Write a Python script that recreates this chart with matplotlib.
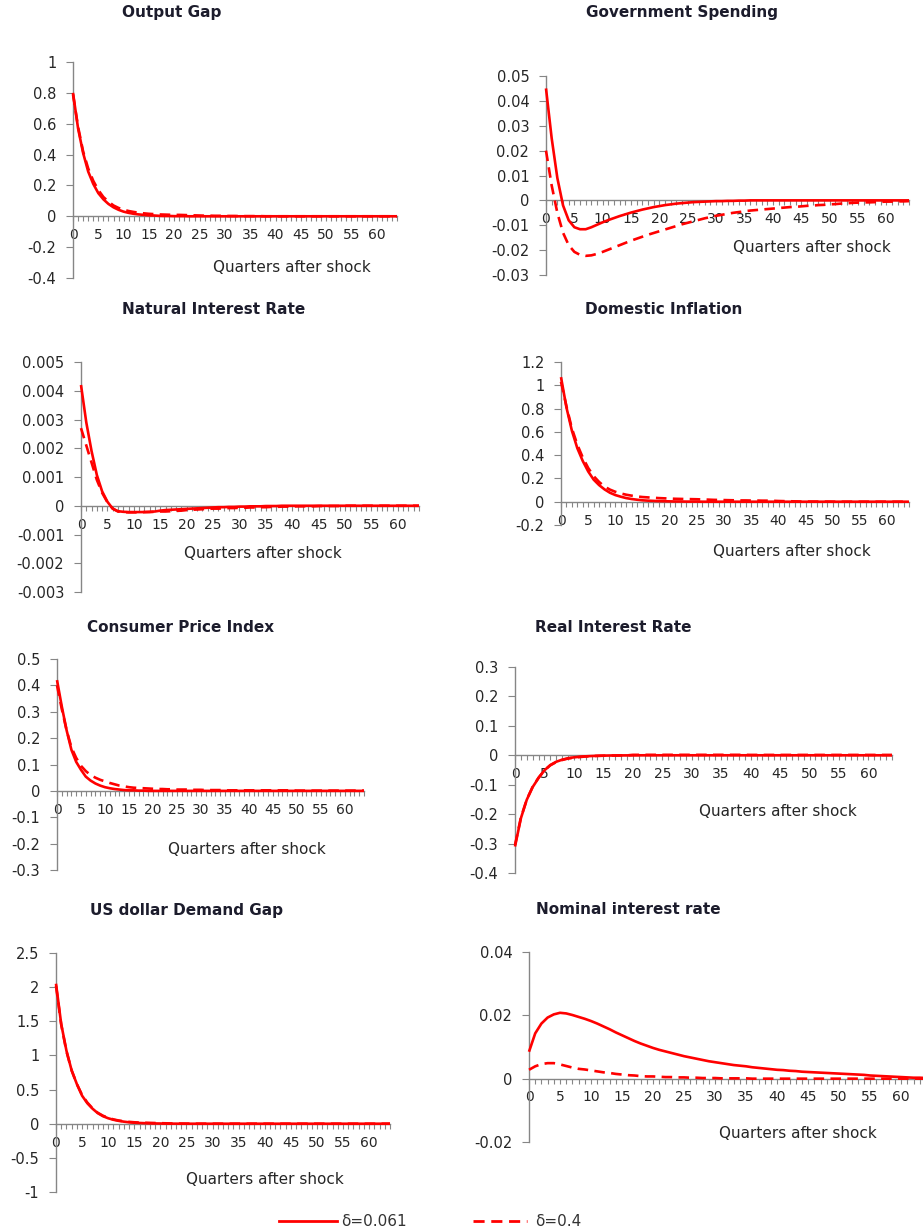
import matplotlib
matplotlib.use("Agg")
import matplotlib.pyplot as plt
from matplotlib.ticker import MultipleLocator, FuncFormatter
from matplotlib.lines import Line2D

plt.rcParams['font.family'] = ['DejaVu Sans']

# ---------------- data ----------------
quarters = list(range(65))
xticks_major = [0, 5, 10, 15, 20, 25, 30, 35, 40, 45, 50, 55, 60]

titles = ["Output Gap", "Government Spending", "Natural Interest Rate",
          "Domestic Inflation", "Consumer Price Index", "Real Interest Rate",
          "US dollar Demand Gap", "Nominal interest rate"]
legend_labels = ["\u03b4=0.061", "\u03b4=0.4"]
xlabel_text = "Quarters after shock"

og_solid = [0.80, 0.57, 0.41, 0.29, 0.21, 0.15, 0.11, 0.08, 0.058, 0.042,
            0.030, 0.022, 0.016, 0.012, 0.009, 0.006, 0.005, 0.003, 0.002, 0.002,
            0.001, 0.001, 0.001, 0, 0, 0, 0, 0, 0, 0,
            0, 0, 0, 0, 0, 0, 0, 0, 0, 0,
            0, 0, 0, 0, 0, 0, 0, 0, 0, 0,
            0, 0, 0, 0, 0, 0, 0, 0, 0, 0,
            0, 0, 0, 0, 0]
og_dash = [0.79, 0.58, 0.42, 0.31, 0.23, 0.17, 0.125, 0.095, 0.070, 0.054,
           0.042, 0.034, 0.028, 0.023, 0.019, 0.016, 0.014, 0.012, 0.011, 0.010,
           0.009, 0.009, 0.008, 0.007, 0.006, 0.005, 0.004, 0.004, 0.003, 0.003,
           0.002, 0.002, 0.002, 0.001, 0.001, 0.001, 0.001, 0.001, 0, 0,
           0, 0, 0, 0, 0, 0, 0, 0, 0, 0,
           0, 0, 0, 0, 0, 0, 0, 0, 0, 0,
           0, 0, 0, 0, 0]

gs_solid = [0.045, 0.025, 0.009, -0.002, -0.008, -0.0108, -0.0116, -0.0116, -0.0108, -0.0098,
            -0.0088, -0.0079, -0.0071, -0.0063, -0.0056, -0.0049, -0.0043, -0.0037, -0.0032, -0.0027,
            -0.0023, -0.0019, -0.0016, -0.0013, -0.0011, -0.0009, -0.0007, -0.0006, -0.0005, -0.0004,
            -0.0003, -0.0003, -0.0002, -0.0002, -0.0001, -0.0001, 0, 0, 0, 0,
            0, 0, 0, 0, 0, 0, 0, 0, 0, 0,
            0, 0, 0, 0, 0, 0, 0, 0, 0, 0,
            0, 0, 0, 0, 0]
gs_dash = [0.020, 0.006, -0.005, -0.013, -0.018, -0.0207, -0.0219, -0.0223, -0.0221, -0.0215,
           -0.0207, -0.0198, -0.0189, -0.0180, -0.0171, -0.0162, -0.0154, -0.0146, -0.0138, -0.0131,
           -0.0124, -0.0117, -0.0110, -0.0103, -0.0096, -0.0090, -0.0084, -0.0078, -0.0072, -0.0067,
           -0.0062, -0.0058, -0.0054, -0.0050, -0.0047, -0.0044, -0.0041, -0.0039, -0.0037, -0.0035,
           -0.0033, -0.0031, -0.0029, -0.0027, -0.0026, -0.0024, -0.0022, -0.0021, -0.0019, -0.0018,
           -0.0016, -0.0015, -0.0013, -0.0012, -0.0010, -0.0009, -0.0008, -0.0008, -0.0007, -0.0006,
           -0.0005, -0.0005, -0.0004, -0.0004, -0.0003]

nir_solid = [0.0042, 0.0029, 0.0019, 0.00107, 0.0005, 0.00014, -0.0001, -0.00019, -0.00021, -0.00022,
             -0.00022, -0.00022, -0.00022, -0.00021, -0.0002, -0.00017, -0.00015, -0.00014, -0.00013, -0.00012,
             -0.00011, -0.0001, -0.00009, -0.00008, -0.00007, -0.00006, -0.00005, -0.00005, -0.00004, -0.00004,
             -0.00003, -0.00003, -0.00002, -0.00002, -0.00002, -0.00001, -0.00001, -0.00001, 0, 0,
             0, 0, 0, 0, 0, 0, 0, 0, 0, 0,
             0, 0, 0, 0, 0, 0, 0, 0, 0, 0,
             0, 0, 0, 0, 0]
nir_dash = [0.0027, 0.0021, 0.0015, 0.0009, 0.00045, 0.00012, -0.0001, -0.0002, -0.00022, -0.00023,
            -0.00023, -0.00023, -0.00022, -0.00022, -0.00021, -0.0002, -0.0002, -0.00019, -0.00018, -0.00017,
            -0.00015, -0.00014, -0.00013, -0.00012, -0.00011, -0.0001, -0.0001, -0.00009, -0.00008, -0.00008,
            -0.00007, -0.00007, -0.00006, -0.00006, -0.00005, -0.00005, -0.00004, -0.00004, -0.00003, -0.00003,
            -0.00003, -0.00002, -0.00002, -0.00002, -0.00002, -0.00001, -0.00001, -0.00001, -0.00001, -0.00001,
            0, 0, 0, 0, 0, 0, 0, 0, 0, 0,
            0, 0, 0, 0, 0]

di_solid = [1.07, 0.81, 0.61, 0.46, 0.35, 0.26, 0.19, 0.143, 0.106, 0.077,
            0.057, 0.043, 0.031, 0.023, 0.017, 0.012, 0.009, 0.007, 0.005, 0.004,
            0.003, 0.002, 0.002, 0.001, 0.001, 0.001, 0, 0, 0, 0,
            0, 0, 0, 0, 0, 0, 0, 0, 0, 0,
            0, 0, 0, 0, 0, 0, 0, 0, 0, 0,
            0, 0, 0, 0, 0, 0, 0, 0, 0, 0,
            0, 0, 0, 0, 0]
di_dash = [1.03, 0.82, 0.63, 0.49, 0.38, 0.29, 0.22, 0.17, 0.13, 0.104,
           0.085, 0.071, 0.060, 0.052, 0.045, 0.040, 0.037, 0.034, 0.031, 0.029,
           0.027, 0.025, 0.024, 0.023, 0.022, 0.021, 0.019, 0.018, 0.016, 0.015,
           0.014, 0.013, 0.012, 0.011, 0.011, 0.010, 0.010, 0.009, 0.009, 0.008,
           0.006, 0.005, 0.004, 0.003, 0.002, 0.002, 0.001, 0.001, 0.001, 0.001,
           0, 0, 0, 0, 0, 0, 0, 0, 0, 0,
           0, 0, 0, 0, 0]

cpi_solid = [0.42, 0.32, 0.23, 0.156, 0.11, 0.08, 0.054, 0.039, 0.028, 0.020,
             0.014, 0.010, 0.007, 0.005, 0.003, 0.002, 0.002, 0.001, 0.001, 0,
             0, 0, 0, 0, 0, 0, 0, 0, 0, 0,
             0, 0, 0, 0, 0, 0, 0, 0, 0, 0,
             0, 0, 0, 0, 0, 0, 0, 0, 0, 0,
             0, 0, 0, 0, 0, 0, 0, 0, 0, 0,
             0, 0, 0, 0, 0]
cpi_dash = [0.40, 0.31, 0.23, 0.165, 0.125, 0.095, 0.075, 0.060, 0.050, 0.042,
            0.036, 0.030, 0.025, 0.020, 0.017, 0.014, 0.012, 0.011, 0.010, 0.009,
            0.008, 0.007, 0.007, 0.006, 0.006, 0.005, 0.005, 0.005, 0.004, 0.004,
            0.004, 0.003, 0.003, 0.003, 0.003, 0.002, 0.002, 0.002, 0.002, 0.002,
            0.002, 0.002, 0.002, 0.002, 0.002, 0.002, 0.002, 0.002, 0.002, 0.002,
            0.001, 0.001, 0.001, 0.001, 0.001, 0.001, 0.001, 0.001, 0.001, 0.001,
            0.001, 0.001, 0.001, 0.001, 0.001]

rir_solid = [-0.31, -0.214, -0.151, -0.108, -0.077, -0.051, -0.033, -0.022, -0.015, -0.010,
             -0.007, -0.005, -0.0035, -0.0025, -0.0018, -0.0012, -0.0008, -0.0006, -0.0004, -0.0003,
             -0.0002, -0.0001, 0, 0, 0, 0, 0, 0, 0, 0,
             0, 0, 0, 0, 0, 0, 0, 0, 0, 0,
             0, 0, 0, 0, 0, 0, 0, 0, 0, 0,
             0, 0, 0, 0, 0, 0, 0, 0, 0, 0,
             0, 0, 0, 0, 0]
rir_dash = [-0.305, -0.212, -0.150, -0.107, -0.076, -0.051, -0.034, -0.023, -0.016, -0.011,
            -0.008, -0.006, -0.004, -0.003, -0.002, -0.0015, -0.001, -0.0008, -0.0006, -0.0004,
            0.0015, 0.0015, 0.0015, 0.0015, 0.0015, 0.0015, 0.0015, 0.0015, 0.0015, 0.0015,
            0.0015, 0.0015, 0.0015, 0.0015, 0.0015, 0.0015, 0.0015, 0.0015, 0.0015, 0.0015,
            0.0012, 0.0012, 0.0012, 0.0012, 0.0012, 0.0012, 0.0012, 0.0012, 0.0012, 0.0012,
            0.0012, 0.0012, 0.0012, 0.0012, 0.0012, 0.0012, 0.0012, 0.0012, 0.0012, 0.0012,
            0.0012, 0.0012, 0.0012, 0.0012, 0.0012]

usd_solid = [2.05, 1.46, 1.07, 0.78, 0.58, 0.41, 0.30, 0.22, 0.155, 0.11,
             0.08, 0.058, 0.042, 0.03, 0.021, 0.015, 0.011, 0.008, 0.006, 0.004,
             0.003, 0.002, 0.001, 0.001, 0, 0, 0, 0, 0, 0,
             0, 0, 0, 0, 0, 0, 0, 0, 0, 0,
             0, 0, 0, 0, 0, 0, 0, 0, 0, 0,
             0, 0, 0, 0, 0, 0, 0, 0, 0, 0,
             0, 0, 0, 0, 0]
usd_dash = [2.02, 1.45, 1.06, 0.78, 0.58, 0.42, 0.31, 0.225, 0.16, 0.117,
            0.086, 0.063, 0.047, 0.035, 0.027, 0.021, 0.017, 0.014, 0.012, 0.010,
            0.008, 0.006, 0.004, 0.003, 0.002, 0.001, 0.001, 0, 0, 0,
            0, 0, 0, 0, 0, 0, 0, 0, 0, 0,
            0, 0, 0, 0, 0, 0, 0, 0, 0, 0,
            0, 0, 0, 0, 0, 0, 0, 0, 0, 0,
            0, 0, 0, 0, 0]

nom_solid = [0.0085, 0.0143, 0.0174, 0.0193, 0.0203, 0.0208, 0.0206, 0.0201, 0.0195, 0.0189,
             0.0182, 0.0174, 0.0165, 0.0156, 0.0146, 0.0137, 0.0128, 0.0119, 0.0111, 0.0104,
             0.0097, 0.0091, 0.0086, 0.0081, 0.0076, 0.0071, 0.0067, 0.0063, 0.0059, 0.0055,
             0.0052, 0.0049, 0.0046, 0.0043, 0.0041, 0.0039, 0.0036, 0.0034, 0.0032, 0.0030,
             0.0028, 0.0027, 0.0025, 0.0024, 0.0022, 0.0021, 0.0020, 0.0019, 0.0018, 0.0017,
             0.0016, 0.0015, 0.0014, 0.0013, 0.0012, 0.0010, 0.0009, 0.0008, 0.0007, 0.0006,
             0.0005, 0.0004, 0.0003, 0.0003, 0.0002]
nom_dash = [0.0028, 0.0039, 0.0046, 0.0049, 0.0049, 0.0045, 0.0040, 0.0035, 0.0031, 0.0029,
            0.0026, 0.0023, 0.0020, 0.0018, 0.0015, 0.0013, 0.0011, 0.0010, 0.0008, 0.0007,
            0.0007, 0.0006, 0.0005, 0.0005, 0.0004, 0.0004, 0.0003, 0.0003, 0.0002, 0.0002,
            0.0002, 0.0001, 0.0001, 0.0001, 0.0001, 0.0001, 0, 0, 0, 0,
            0, 0, 0, 0, 0, 0, 0, 0, 0, 0,
            0, 0, 0, 0, 0, 0, 0, 0, 0, 0,
            0, 0, 0, 0, 0]

series_solid = [og_solid, gs_solid, nir_solid, di_solid, cpi_solid, rir_solid, usd_solid, nom_solid]
series_dash = [og_dash, gs_dash, nir_dash, di_dash, cpi_dash, rir_dash, usd_dash, nom_dash]
y_ranges = [(-0.4, 1.0, 0.2), (-0.03, 0.05, 0.01), (-0.003, 0.005, 0.001), (-0.2, 1.2, 0.2),
            (-0.3, 0.5, 0.1), (-0.4, 0.3, 0.1), (-1.0, 2.5, 0.5), (-0.02, 0.04, 0.02)]

# ---------------- layout (pixels) ----------------
W, H = 923, 1232
# axes box: x_left, x_right, y_top, y_bottom
boxes = [(73, 397, 62, 278), (546, 909, 76, 275),
         (81, 419, 362, 592), (561, 909, 362, 525),
         (57, 364, 659, 870), (515, 892, 667, 873),
         (56, 390, 953, 1192), (529, 926, 952, 1142)]
title_pos = [(172, 12), (682, 12), (214, 310), (664, 310),
             (181, 627), (613, 627), (187, 910), (628, 910)]
xlab_pos = [(292, 267), (812, 248), (263, 553), (792, 551),
            (247, 849), (778, 811), (265, 1179), (798, 1134)]

RED = '#FF0000'
GRAY = '#868686'
TXT = '#262626'

fig = plt.figure(figsize=(W / 100, H / 100), dpi=100)


def fmt(v, pos):
    r = round(v, 6)
    if abs(r) < 1e-12:
        return '0'
    return '{:g}'.format(r)


for i in range(8):
    x0, x1, yt, yb = boxes[i]
    ax = fig.add_axes([x0 / W, 1 - yb / H, (x1 - x0) / W, (yb - yt) / H])
    ax.patch.set_alpha(0)
    ymin, ymax, ystep = y_ranges[i]
    ax.plot(quarters, series_solid[i], color=RED, lw=1.9, solid_capstyle='butt', zorder=5, clip_on=False)
    ax.plot(quarters, series_dash[i], color=RED, lw=1.9, linestyle=(0, (4, 2.4)), zorder=5, clip_on=False)
    ax.set_xlim(0, 64)
    ax.set_ylim(ymin, ymax)
    for s in ['top', 'right']:
        ax.spines[s].set_visible(False)
    ax.spines['bottom'].set_position(('data', 0))
    ax.spines['left'].set_color(GRAY)
    ax.spines['bottom'].set_color(GRAY)
    ax.spines['left'].set_linewidth(1.0)
    ax.spines['bottom'].set_linewidth(1.0)
    ax.xaxis.set_minor_locator(MultipleLocator(1))
    ax.yaxis.set_major_locator(MultipleLocator(ystep))
    ax.yaxis.set_major_formatter(FuncFormatter(fmt))
    ax.set_xticks(xticks_major)
    ax.set_xticklabels([str(t) for t in xticks_major])
    ax.tick_params(axis='x', which='both', direction='out', length=3.5, width=0.8, color=GRAY,
                   labelsize=10, pad=5, labelcolor=TXT)
    ax.tick_params(axis='y', which='major', direction='out', length=5, width=0.8, color=GRAY,
                   labelsize=10.5, pad=7, labelcolor=TXT)
    fig.text(title_pos[i][0] / W, 1 - title_pos[i][1] / H, titles[i], ha='center', va='center',
             fontsize=11, fontweight='bold', color='#1c1c2c')
    fig.text(xlab_pos[i][0] / W, 1 - xlab_pos[i][1] / H, xlabel_text, ha='center', va='center',
             fontsize=11, color=TXT)

# legend
ly = 1 - 1221 / H
fig.add_artist(Line2D([279 / W, 337 / W], [ly, ly], color=RED, lw=2.0, transform=fig.transFigure))
fig.text(341 / W, ly, legend_labels[0], ha='left', va='center', fontsize=11, color='#333333')
fig.add_artist(Line2D([473 / W, 527 / W], [ly, ly], color=RED, lw=2.0, linestyle=(0, (4, 2.4)),
                      transform=fig.transFigure))
fig.text(535 / W, ly, legend_labels[1], ha='left', va='center', fontsize=11, color='#333333')

fig.savefig('out.png', dpi=100, facecolor='white')
